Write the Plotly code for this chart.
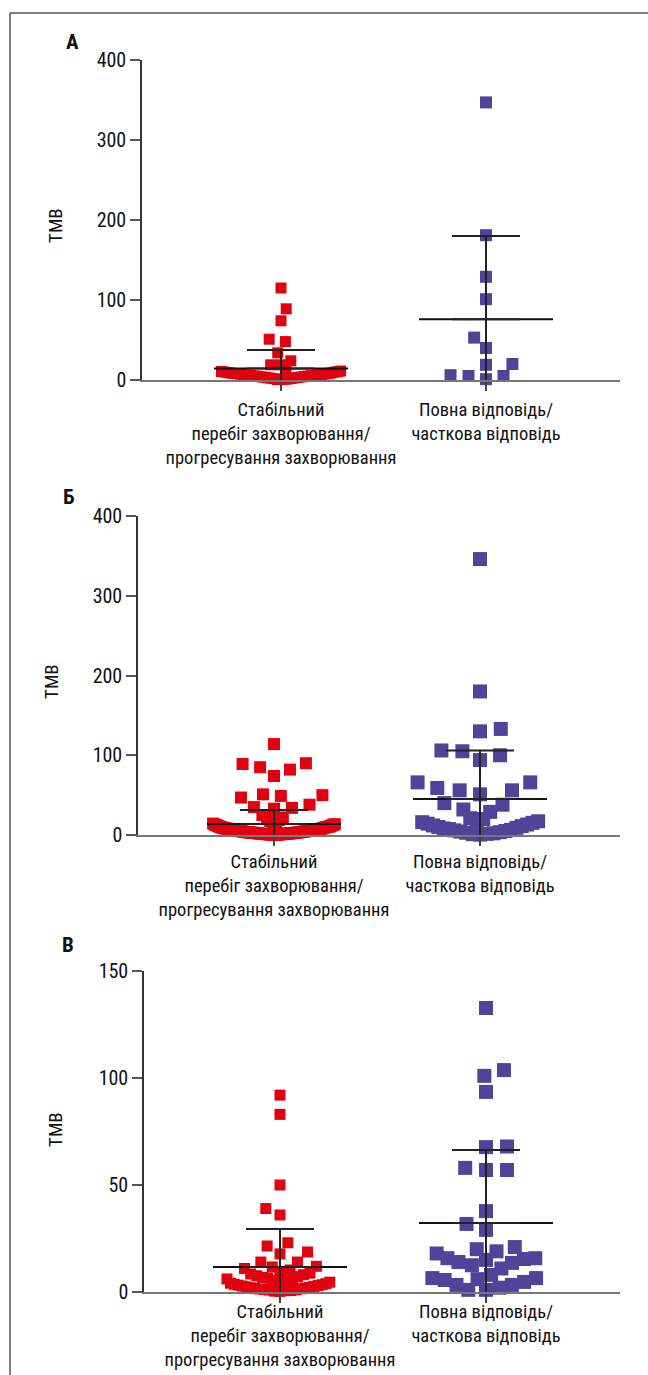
import numpy as np
import plotly.graph_objects as go

W_PX, H_PX = 648, 1375

categories = ["Стабільний<br>перебіг захворювання/<br>прогресування захворювання",
              "Повна відповідь/<br>часткова відповідь"]
panel_letters = ["А", "Б", "В"]
y_title = "TMB"

# ---- Panel A values ----
red_A = [115, 89, 74, 51, 48, 34, 24, 19, 19,
         11.8, 11.2, 10.6, 10.3, 9.9, 9.7, 9.2, 8.8, 8.6, 8.1, 7.9, 7.4, 7.2,
         6.9, 6.5, 6.3, 6.0, 5.8, 5.4, 5.1, 4.9, 4.6, 4.3, 4.0, 3.8, 3.5, 3.1,
         2.9, 2.6, 2.2, 1.9, 1.6, 1.2, 0.9, 0.6, 0.4, 7.7, 5.6]
purple_A = [347, 181, 129, 101, 53, 40, 20, 19, 6, 5, 5, 1]
mean_A = [14.4, 76]
sd_A = [23, 104]

# ---- Panel B values ----
red_B = [114, 90, 89, 85, 82, 74, 51, 50, 49, 47, 38, 35, 34, 33, 25, 22, 20, 19,
         17.5, 16.2, 15.1, 14.3, 13.6, 13.0, 12.4, 12.0, 11.5, 11.1, 10.7, 10.4,
         10.0, 9.7, 9.4, 9.1, 8.8, 8.6, 8.3, 8.1, 7.8, 7.6, 7.4, 7.2, 7.0, 6.8,
         6.6, 6.4, 6.2, 6.0, 5.8, 5.7, 5.5, 5.3, 5.1, 5.0, 4.8, 4.7, 4.5, 4.4,
         4.2, 4.1, 3.9, 3.8, 3.6, 3.5, 3.4, 3.2, 3.1, 3.0, 2.9, 2.7, 2.6, 2.5,
         2.4, 2.3, 2.2, 2.0, 1.9, 1.8, 1.7, 1.6, 1.5, 1.4, 1.3, 1.2, 1.1, 1.0,
         0.9, 0.8, 0.7, 0.6, 0.5, 0.4, 0.3, 0.2, 12.8, 9.9, 7.1, 5.4, 3.3, 1.75]
purple_B = [346, 180, 133, 130, 106, 105, 100, 94, 66, 66, 59, 56, 56, 51, 40, 38,
            32, 29, 21, 20,
            18, 17.2, 16.1, 15.3, 14.2, 13.1, 12.0, 11.2, 10.1, 9.0, 8.2, 7.4,
            6.5, 5.8, 5.0, 4.3, 3.5, 2.8, 2.1, 1.5, 1.0, 0.5]
mean_B = [13.75, 45]
sd_B = [17.5, 61]

# ---- Panel C values ----
red_C = [92, 83, 50, 39, 36, 23, 21.5, 18.7, 17.8, 14, 14, 12, 11.7, 11, 10.3, 8.4,
         9.2, 8.8, 8.1, 7.6, 7.2, 6.8, 6.5, 6.1, 5.8, 5.5, 5.2, 4.9, 4.6, 4.4,
         4.1, 3.9, 3.6, 3.4, 3.2, 3.0, 2.8, 2.6, 2.4, 2.2, 2.0, 1.9, 1.7, 1.5,
         1.4, 1.2, 1.0, 0.9, 0.7, 0.6, 0.4, 0.3]
purple_C = [132.7, 103.7, 101, 93.5, 68, 67.7, 58, 57, 57, 37.8, 31.8, 29, 21, 20,
            19, 18, 15.8, 15.8, 15.4, 15, 14, 13.6, 12.5, 11, 8, 6.5, 6.5, 6,
            5.6, 4.7, 3.3, 3.3, 2, 1, 1]
mean_C = [11.7, 32.2]
sd_C = [17.7, 34.2]

ticks_AB = [0, 100, 200, 300, 400]
ticks_C = [0, 50, 100, 150]

RED = "#e3000f"
PURPLE = "#50449a"
FONT = "Liberation Sans Narrow, Roboto Condensed, DejaVu Sans Condensed, sans-serif"

# panel geometry in pixels
panels = [
    dict(red=red_A, pur=purple_A, mean=mean_A, sd=sd_A, ticks=ticks_AB, ymax=400,
         x0=142, x1=620, ytop=60, ybot=380, c0=281, c1=486, ms=(11, 12),
         letter=(72, 42), title=(55, 226), standoff=3),
    dict(red=red_B, pur=purple_B, mean=mean_B, sd=sd_B, ticks=ticks_AB, ymax=400,
         x0=138, x1=620, ytop=516, ybot=835, c0=274, c1=480, ms=(12, 14),
         letter=(68, 497), title=(51, 682), standoff=0),
    dict(red=red_C, pur=purple_C, mean=mean_C, sd=sd_C, ticks=ticks_C, ymax=150,
         x0=144, x1=620, ytop=971, ybot=1292, c0=280, c1=486, ms=(11, 14),
         letter=(68, 945), title=(55, 1130), standoff=-7),
]


def swarm(values, ypx, ms, W):
    """Beeswarm offsets (px): ascending order, nearest free slot to the centre,
    horizontal spacing compressed where the column would get too wide."""
    y = np.asarray(values, float) * ypx
    n = len(y)
    dv = 1.15 * ms
    dh = 1.5 * ms
    order = np.argsort(y, kind="stable")
    dxs = np.empty(n)
    for i in range(n):
        cnt = np.sum(np.abs(y - y[i]) < 0.8 * ms)
        dxs[i] = min(dh, 2 * W / max(cnt - 1, 1))
    xs = np.zeros(n)
    placed = []
    last_side = 1.0
    for i in order:
        def dist(x):
            m = 1e9
            for j in placed:
                dy = y[i] - y[j]
                if abs(dy) >= dv:
                    continue
                dxm = min(dxs[i], dxs[j])
                m = min(m, ((x - xs[j]) / dxm) ** 2 + (dy / dv) ** 2)
            return m
        cands = [0.0]
        for j in placed:
            dy = y[i] - y[j]
            if abs(dy) < dv:
                dxm = min(dxs[i], dxs[j])
                off = dxm * np.sqrt(1 - (dy / dv) ** 2)
                cands += [xs[j] + off + 1e-6, xs[j] - off - 1e-6]
        valid = [c for c in cands if abs(c) <= W + 0.5 and dist(c) >= 1 - 1e-9]
        if valid:
            best = min(valid, key=lambda c: (round(abs(c), 5), last_side * np.sign(c)))
        else:
            grid = np.linspace(-W, W, int(2 * W) + 1)
            best = max(grid, key=lambda x: (round(dist(x), 6), -abs(x)))
        xs[i] = best
        placed.append(i)
        if best != 0:
            last_side = np.sign(best)
    return xs


fig = go.Figure()
annotations = []
layout = {}

for k, p in enumerate(panels):
    ax = "" if k == 0 else str(k + 1)
    xpx = p["c1"] - p["c0"]  # px per category unit
    xr = [-(p["c0"] - p["x0"]) / xpx, 1 + (p["x1"] - p["c1"]) / xpx]
    ypx = (p["ybot"] - p["ytop"]) / p["ymax"]
    W = 62
    for ci, (vals, col, ms) in enumerate([(p["red"], RED, p["ms"][0]),
                                           (p["pur"], PURPLE, p["ms"][1])]):
        offs = swarm(vals, ypx, ms, W)
        fig.add_trace(go.Scatter(
            x=ci + offs / xpx, y=vals, mode="markers",
            marker=dict(symbol="square", size=ms, color=col, line=dict(width=0)),
            xaxis="x" + ax, yaxis="y" + ax, cliponaxis=False, showlegend=False))
    for ci in range(2):
        m, s = p["mean"][ci], p["sd"][ci]
        hw = 67 / xpx
        fig.add_trace(go.Scatter(
            x=[ci - hw, ci + hw], y=[m, m], mode="lines",
            line=dict(color="#111", width=2),
            xaxis="x" + ax, yaxis="y" + ax, cliponaxis=False, showlegend=False))
        fig.add_trace(go.Scatter(
            x=[ci], y=[m], mode="markers", marker=dict(size=1, opacity=0),
            error_y=dict(type="data", symmetric=False, array=[s], arrayminus=[0],
                         width=34, thickness=2, color="#222"),
            xaxis="x" + ax, yaxis="y" + ax, cliponaxis=False, showlegend=False))
        lower = min(s, m + 12 / ypx)
        fig.add_trace(go.Scatter(
            x=[ci], y=[m], mode="markers", marker=dict(size=1, opacity=0),
            error_y=dict(type="data", symmetric=False, array=[0], arrayminus=[lower],
                         width=0, thickness=2, color="#222"),
            xaxis="x" + ax, yaxis="y" + ax, cliponaxis=False, showlegend=False))

    layout["xaxis" + ax] = dict(
        domain=[p["x0"] / W_PX, p["x1"] / W_PX], range=xr, anchor="y" + ax,
        automargin=False,
        showline=True, linecolor="#777", linewidth=2, showgrid=False, zeroline=False,
        tickmode="array", tickvals=[0, 1], ticktext=categories, ticks="outside",
        ticklen=9, tickwidth=1.5, tickcolor="#444", ticklabelstandoff=p["standoff"],
        tickfont=dict(family=FONT, size=18.5, color="#111"))
    layout["yaxis" + ax] = dict(
        domain=[1 - p["ybot"] / H_PX, 1 - p["ytop"] / H_PX], range=[0, p["ymax"]],
        anchor="x" + ax, automargin=False,
        showline=True, linecolor="#333", linewidth=1.5,
        showgrid=False, zeroline=False, tickmode="array", tickvals=p["ticks"],
        ticks="outside", ticklen=10, tickwidth=1.5, tickcolor="#555",
        tickfont=dict(family=FONT, size=20, color="#111"))
    annotations.append(dict(
        text="<b>" + panel_letters[k] + "</b>", x=p["letter"][0] / W_PX,
        y=1 - p["letter"][1] / H_PX, xref="paper", yref="paper", showarrow=False,
        font=dict(family=FONT, size=21, color="#111"), xanchor="center", yanchor="middle"))
    annotations.append(dict(
        text=y_title, x=p["title"][0] / W_PX, y=1 - p["title"][1] / H_PX,
        xref="paper", yref="paper", showarrow=False, textangle=-90,
        font=dict(family=FONT, size=19, color="#111"), xanchor="center", yanchor="middle"))

shapes = [
    dict(type="line", xref="paper", yref="paper", x0=10 / W_PX, x1=1,
         y0=1 - 13 / H_PX, y1=1 - 13 / H_PX, line=dict(color="#555", width=1.5)),
    dict(type="line", xref="paper", yref="paper", x0=10 / W_PX, x1=10 / W_PX,
         y0=0, y1=1 - 13 / H_PX, line=dict(color="#555", width=1.5)),
]

fig.update_layout(
    width=W_PX, height=H_PX, margin=dict(l=0, r=0, t=0, b=0, autoexpand=False),
    paper_bgcolor="white", plot_bgcolor="white", showlegend=False,
    annotations=annotations, shapes=shapes, **layout)

fig.write_html("out.html")
